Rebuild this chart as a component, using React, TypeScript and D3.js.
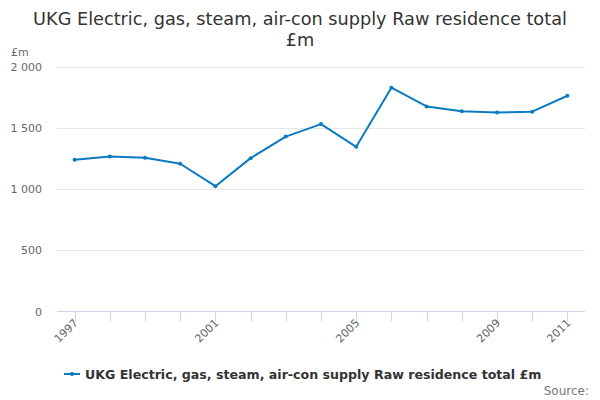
import React from "react";
import * as d3 from "d3";

const years = ["1997","1998","1999","2000","2001","2002","2003","2004","2005","2006","2007","2008","2009","2010","2011"];
const values = [1238, 1266, 1255, 1206, 1023, 1252, 1428, 1530, 1344, 1827, 1674, 1635, 1624, 1631, 1761];
const yTicks = [0, 500, 1000, 1500, 2000];
const xLabelYears = ["1997", "2001", "2005", "2009", "2011"];
const titleLines = ["UKG Electric, gas, steam, air-con supply Raw residence total", "£m"];
const legendLabel = "UKG Electric, gas, steam, air-con supply Raw residence total £m";

const W = 600, H = 400;
const left = 57, right = 585, top = 66.5, bottom = 311.5;
const color = "#0a7bc1";
const font = "'DejaVu Sans', sans-serif";

export default function App() {
  const x = d3.scaleBand<string>().domain(years).range([left, right]);
  const y = d3.scaleLinear().domain([0, 2000]).range([bottom, top]);
  const cx = (yr: string) => (x(yr) as number) + x.bandwidth() / 2;
  const line = d3.line<number>().x((_, i) => cx(years[i])).y((d) => y(d));
  const fmt = (v: number) => d3.format(",")(v).replace(/,/g, " ");
  return (
    <svg width={W} height={H} style={{ position: "absolute", left: 0, top: 0, fontFamily: font }}>
      <rect width={W} height={H} fill="#fff" />
      {titleLines.map((t, i) => (
        <text key={i} x={300} y={25 + i * 21} textAnchor="middle" fontSize={17.7} fill="#333">{t}</text>
      ))}
      <text x={11} y={56} fontSize={11} fill="#666">£m</text>
      {yTicks.map((t) => (
        <g key={t}>
          {t > 0 && <line x1={left} x2={right} y1={Math.round(y(t)) + 0.5} y2={Math.round(y(t)) + 0.5} stroke="#e6e6e6" />}
          <text x={42} y={y(t) + 4} textAnchor="end" fontSize={11} fill="#666">{fmt(t)}</text>
        </g>
      ))}
      <line x1={left} x2={right} y1={bottom} y2={bottom} stroke="#ccd6eb" />
      {years.map((yr) => (
        <line key={yr} x1={Math.round(cx(yr)) + 0.5} x2={Math.round(cx(yr)) + 0.5} y1={bottom} y2={bottom + 10} stroke="#ccd6eb" />
      ))}
      {xLabelYears.map((yr) => (
        <text key={yr} transform={`translate(${cx(yr) + 4},${bottom + 12}) rotate(-45)`} textAnchor="end" fontSize={11} fill="#666">{yr}</text>
      ))}
      <path d={line(values) || ""} fill="none" stroke={color} strokeWidth={2} strokeLinejoin="round" />
      {values.map((v, i) => (
        <circle key={i} cx={cx(years[i])} cy={y(v)} r={2} fill={color} />
      ))}
      <line x1={64} x2={80} y1={374} y2={374} stroke={color} strokeWidth={2} />
      <circle cx={72} cy={374} r={2} fill={color} />
      <text x={85} y={378.5} fontSize={12.6} fontWeight="bold" fill="#333">{legendLabel}</text>
      <text x={589} y={395} textAnchor="end" fontSize={12} fill="#777">Source:</text>
    </svg>
  );
}
